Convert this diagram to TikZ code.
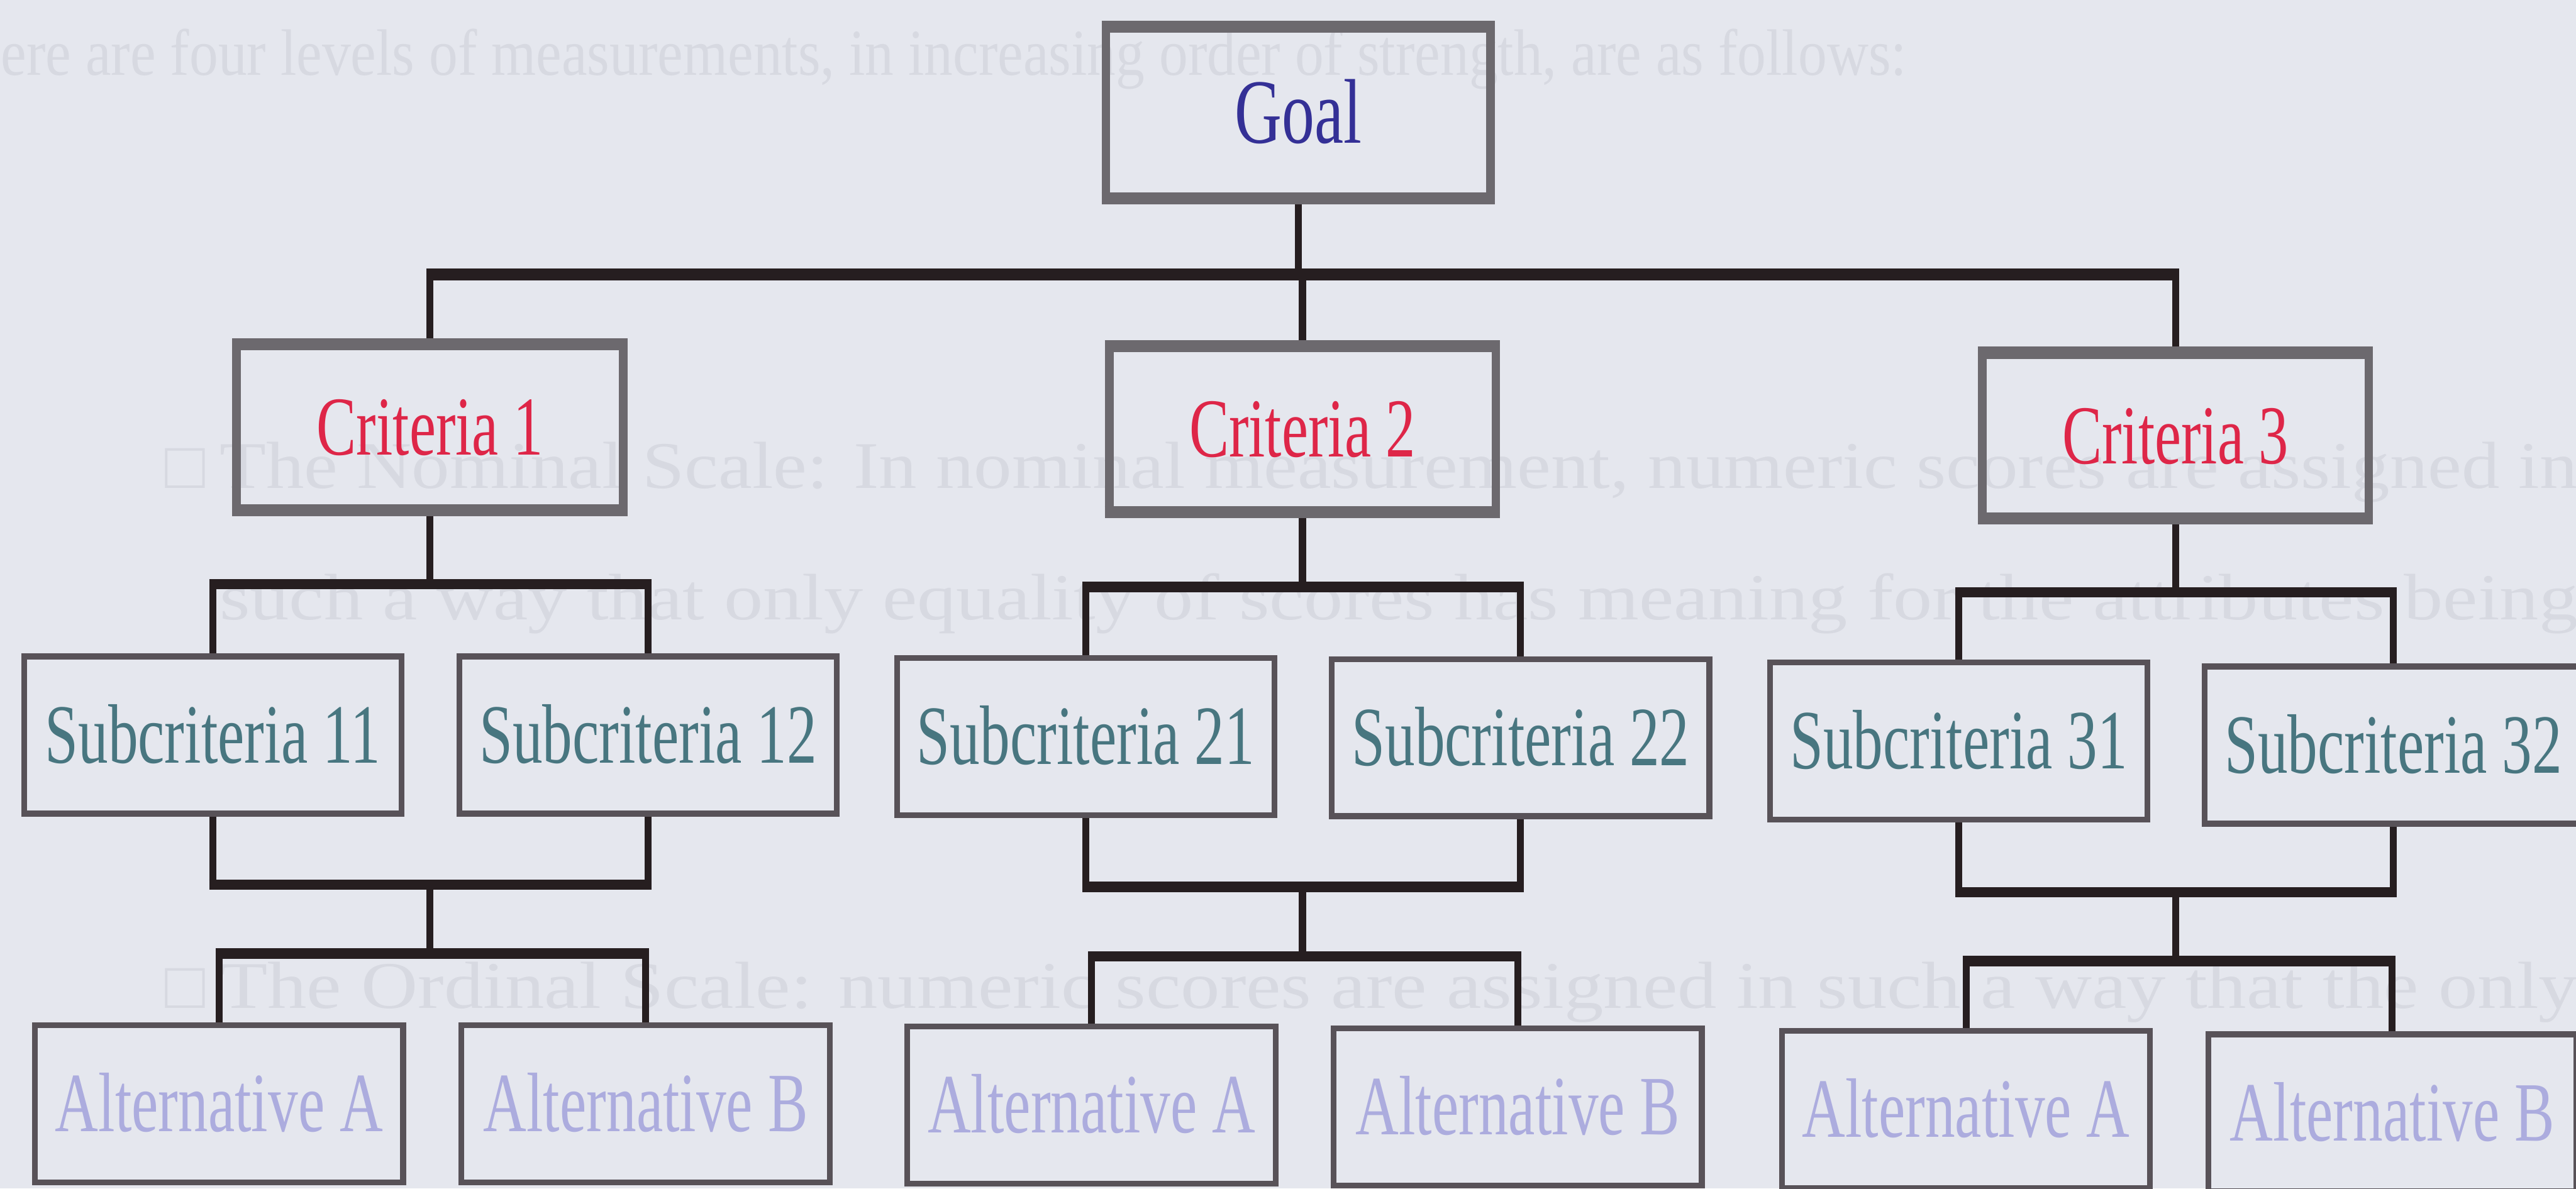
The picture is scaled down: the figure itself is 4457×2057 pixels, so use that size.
\documentclass[tikz,border=0pt]{standalone}
\usepackage{fontspec}
\usepackage{graphicx}
\setmainfont{Liberation Serif}
\usetikzlibrary{calc}
\pgfdeclarelayer{bg}
\pgfsetlayers{bg,main}

\definecolor{paper}{RGB}{229,231,238}
\definecolor{frame}{RGB}{108,105,110}
\definecolor{thinframe}{RGB}{88,82,88}
\definecolor{wirecol}{RGB}{38,30,32}
\definecolor{goalblue}{RGB}{52,48,150}
\definecolor{critred}{RGB}{222,38,72}
\definecolor{subteal}{RGB}{72,118,128}
\definecolor{altlav}{RGB}{172,172,222}
\definecolor{fainttext}{RGB}{215,217,225}

% condensed serif labels
\newcommand{\nar}[1]{\scalebox{0.71}[1]{#1}}
% a line of page text stretched to a given width
\newcommand{\pageline}[2]{\resizebox{#1}{8pt}{#2}}

\tikzset{
  boxbase/.style={draw, inner sep=0pt, outer sep=0pt, text depth=0pt, align=center},
  topbox/.style={boxbase, draw=frame, line width=1.5pt, minimum width=66.9pt,
    minimum height=28.7pt, text height=9.6pt, font=\fontsize{14.5}{16}\selectfont},
  goalbox/.style={topbox, minimum width=66.5pt, minimum height=29.7pt,
    text height=10.5pt, font=\fontsize{15.9}{17}\selectfont, text=goalblue},
  critbox/.style={topbox, text=critred},
  subbox/.style={boxbase, draw=thinframe, line width=1.0pt, minimum width=65.3pt,
    minimum height=27.2pt, text height=9.6pt, font=\fontsize{14.6}{16}\selectfont,
    text=subteal},
  altbox/.style={subbox, minimum width=63.7pt, text=altlav},
  capedge/.style={draw=frame, line width=2.1pt},
  linkwire/.style={draw=wirecol, line width=1.2pt},
  linkbar/.style={draw=wirecol, line width=1.8pt, shorten <=-0.6pt, shorten >=-0.6pt},
  topbar/.style={linkbar, line width=2.1pt},
  faint/.style={text=fainttext, inner sep=0pt, font=\fontsize{11.5}{13}\selectfont},
}

\begin{document}
\begin{tikzpicture}[x=0.1pt, y=-0.1pt]
\useasboundingbox (0,0) rectangle (4457,2057);

% goal and criteria
\node[goalbox] (goal) at (2246,195) {\nar{Goal}};
\node[critbox] (c1) at (744,739.5) {\nar{Criteria 1}};
\node[critbox] (c2) at (2253.5,742.5) {\nar{Criteria 2}};
\node[critbox] (c3) at (3764,754) {\nar{Criteria 3}};

% subcriteria
\node[subbox] (s11) at (368,1272) {\nar{Subcriteria 11}};
\node[subbox] (s12) at (1121.5,1272) {\nar{Subcriteria 12}};
\node[subbox] (s21) at (1878.5,1274.5) {\nar{Subcriteria 21}};
\node[subbox] (s22) at (2631,1276.5) {\nar{Subcriteria 22}};
\node[subbox] (s31) at (3389,1282) {\nar{Subcriteria 31}};
\node[subbox] (s32) at (4141,1289.5) {\nar{Subcriteria 32}};

% alternatives
\node[altbox] (a11) at (379,1910) {\nar{Alternative A}};
\node[altbox] (a12) at (1117,1910) {\nar{Alternative B}};
\node[altbox] (a21) at (1888.5,1912) {\nar{Alternative A}};
\node[altbox] (a22) at (2626,1916) {\nar{Alternative B}};
\node[altbox] (a31) at (3401.5,1920) {\nar{Alternative A}};
\node[altbox] (a32) at (4139,1926) {\nar{Alternative B}};

% heavier top and bottom edges of the upper boxes
\foreach \n in {goal,c1,c2,c3} {
  \draw[capedge] ([xshift=-0.75pt]\n.north west) -- ([xshift=0.75pt]\n.north east);
  \draw[capedge] ([xshift=-0.75pt]\n.south west) -- ([xshift=0.75pt]\n.south east);
}

% levels of the connector bars
\coordinate (b0) at (0,475);
\coordinate (ya1) at (0,1011); \coordinate (ya2) at (0,1016); \coordinate (ya3) at (0,1025);
\coordinate (yb1) at (0,1531); \coordinate (yb2) at (0,1535); \coordinate (yb3) at (0,1544);
\coordinate (yc1) at (0,1650); \coordinate (yc2) at (0,1655); \coordinate (yc3) at (0,1663);

\begin{pgfonlayer}{bg}
  \fill[paper] (0,0) rectangle (4457,2057);

  % text of the printed page showing through
  \node[faint, anchor=base west] (ln1) at (0,130)
    {\pageline{329.7pt}{ere are four levels of measurements, in increasing order of strength, are as follows:}};
  \node[faint, anchor=base west] (bl1) at (284,845) {□};
  \node[faint, anchor=base west] (ln2) at (378,845)
    {\pageline{408pt}{The Nominal Scale: In nominal measurement, numeric scores are assigned in}};
  \node[faint, anchor=base west] (ln3) at (378,1072)
    {\pageline{408pt}{such a way that only equality of scores has meaning for the attributes being}};
  \node[faint, anchor=base west] (bl2) at (284,1745) {□};
  \node[faint, anchor=base west] (ln5) at (378,1745)
    {\pageline{408pt}{The Ordinal Scale: numeric scores are assigned in such a way that the only}};

  % goal to criteria
  \draw[linkwire] (goal.south) -- (goal.south |- b0);
  \draw[topbar] (c1.north |- b0) -- (c3.north |- b0);
  \foreach \i in {1,2,3} {
    \draw[linkwire] (c\i.north |- b0) -- (c\i.north);
  }

  % criteria to subcriteria to alternatives
  \foreach \g in {1,2,3} {
    \draw[linkwire] (c\g.south) -- (c\g.south |- ya\g);
    \draw[linkbar] (s\g1.north |- ya\g) -- (s\g2.north |- ya\g);
    \draw[linkwire] (s\g1.north |- ya\g) -- (s\g1.north);
    \draw[linkwire] (s\g2.north |- ya\g) -- (s\g2.north);

    \draw[linkwire] (s\g1.south) -- (s\g1.south |- yb\g);
    \draw[linkwire] (s\g2.south) -- (s\g2.south |- yb\g);
    \draw[linkbar] (s\g1.south |- yb\g) -- (s\g2.south |- yb\g);

    \draw[linkwire] (c\g.south |- yb\g) -- (c\g.south |- yc\g);

    \draw[linkbar] (a\g1.north |- yc\g) -- (a\g2.north |- yc\g);
    \draw[linkwire] (a\g1.north |- yc\g) -- (a\g1.north);
    \draw[linkwire] (a\g2.north |- yc\g) -- (a\g2.north);
  }
\end{pgfonlayer}
\end{tikzpicture}
\end{document}
